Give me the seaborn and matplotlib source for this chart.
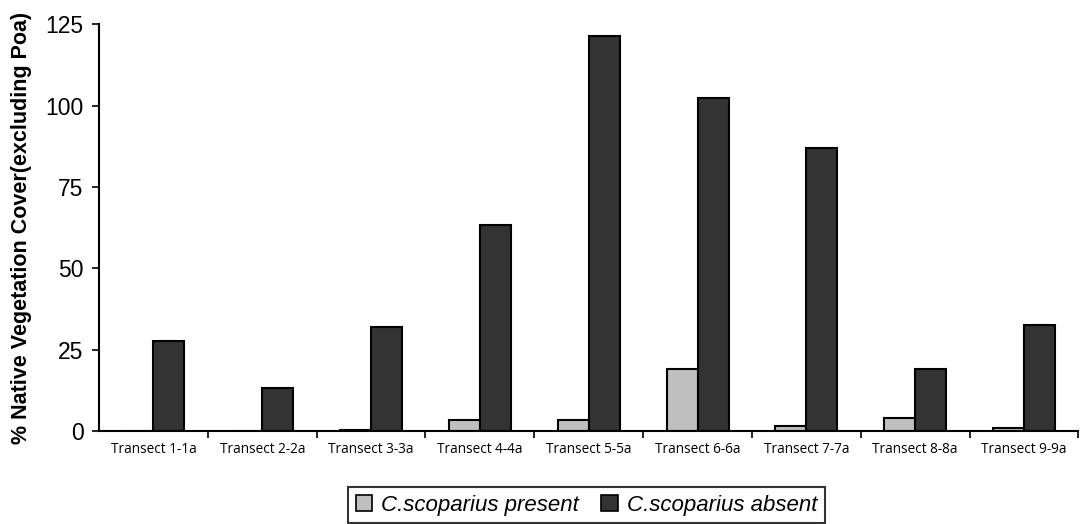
import pandas as pd
import seaborn as sns
import matplotlib.pyplot as plt
from matplotlib.ticker import FixedLocator, NullFormatter

# data
transekty = ['Transect 1-1a', 'Transect 2-2a', 'Transect 3-3a', 'Transect 4-4a',
             'Transect 5-5a', 'Transect 6-6a', 'Transect 7-7a', 'Transect 8-8a',
             'Transect 9-9a']
obecny = [0, 0, 0.4, 3.5, 3.4, 19.0, 1.6, 4.2, 1.1]
nieobecny = [27.6, 13.4, 31.9, 63.3, 121.4, 102.3, 86.9, 19.0, 32.6]
grupy = ['C.scoparius present', 'C.scoparius absent']
kolory = ['#c0c0c0', '#333333']
y_ticki = [0, 25, 50, 75, 100, 125]


def przygotuj_dane():
    df = pd.DataFrame({
        'transekt': transekty * 2,
        'grupa': [grupy[0]] * len(transekty) + [grupy[1]] * len(transekty),
        'pokrycie': obecny + nieobecny,
    })
    return df


def wykres(df):
    sns.set_style('white')
    plt.rcParams['font.family'] = ['Liberation Sans', 'DejaVu Sans']
    plt.rcParams['text.color'] = 'black'
    plt.rcParams['axes.labelcolor'] = 'black'
    plt.rcParams['xtick.color'] = 'black'
    plt.rcParams['ytick.color'] = 'black'
    fig = plt.figure(figsize=(10.81, 5.24), dpi=100)
    ax = fig.add_axes([0.0916, 0.177, 0.906, 0.777])

    sns.barplot(data=df, x='transekt', y='pokrycie', hue='grupa',
                hue_order=grupy, palette=kolory, width=0.57,
                edgecolor='black', linewidth=1.5, ax=ax)

    ax.set_xlim(-0.5, len(transekty) - 0.5)
    ax.set_ylim(0, 125)
    ax.set_yticks(y_ticki)
    ax.tick_params(axis='y', labelsize=16.5, length=5, width=1.2,
                   direction='out', left=True, pad=6)
    ax.tick_params(axis='x', which='major', length=0, labelsize=9.8, pad=8)
    ax.xaxis.set_minor_locator(FixedLocator([i + 0.5 for i in range(len(transekty))]))
    ax.xaxis.set_minor_formatter(NullFormatter())
    ax.tick_params(axis='x', which='minor', length=5, width=1.2,
                   direction='out', bottom=True)
    for lab in ax.get_xticklabels():
        lab.set_fontfamily(['Open Sans', 'DejaVu Sans'])

    for s in ['top', 'right']:
        ax.spines[s].set_visible(False)
    for s in ['left', 'bottom']:
        ax.spines[s].set_color('black')
        ax.spines[s].set_linewidth(1.5)

    ax.set_xlabel('')
    ax.set_ylabel('% Native Vegetation Cover(excluding Poa)',
                  fontsize=15.5, fontweight='bold', labelpad=10)

    ax.get_legend().remove()
    uchwyty = [plt.Rectangle((0, 0), 1, 1, facecolor=k, edgecolor='black', linewidth=1.2)
               for k in kolory]
    leg = fig.legend(uchwyty, grupy, loc='lower center', bbox_to_anchor=(0.5426, -0.02),
                     ncol=2, frameon=True, fancybox=False,
                     prop={'style': 'italic', 'size': 16},
                     handlelength=0.75, handleheight=0.75, handletextpad=0.4,
                     columnspacing=1.0, borderpad=0.35, edgecolor='black')
    leg.get_frame().set_linewidth(1.5)

    fig.savefig('out.png', dpi=100)


if __name__ == "__main__":
    dane = przygotuj_dane()
    wykres(dane)
